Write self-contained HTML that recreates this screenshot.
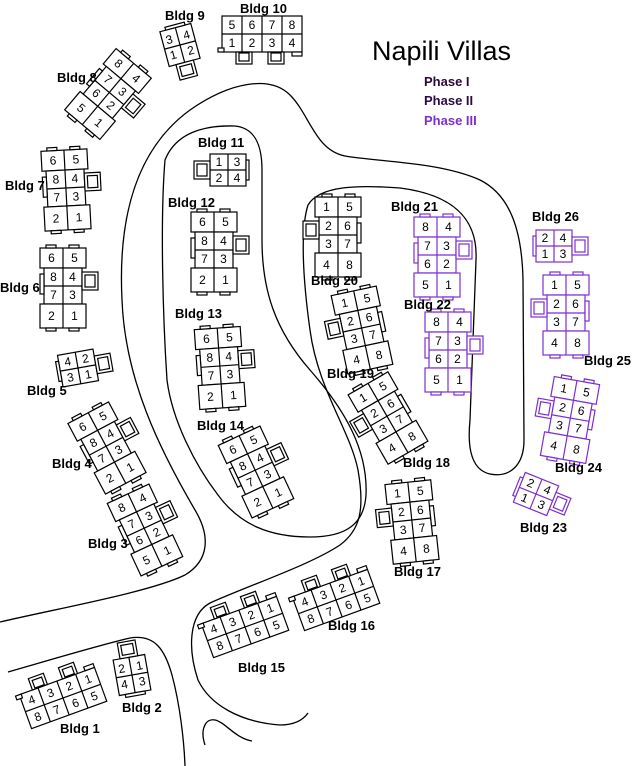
<!DOCTYPE html>
<html><head><meta charset="utf-8"><style>
html,body{margin:0;padding:0;background:#fff;width:633px;height:766px;overflow:hidden}
svg{display:block}
.n{font-family:"Liberation Sans",sans-serif;font-size:12px;text-anchor:middle;fill:#000}
.l{font-family:"Liberation Sans",sans-serif;font-size:13px;font-weight:bold;fill:#000}
</style></head><body>
<svg width="633" height="766" viewBox="0 0 633 766" xmlns="http://www.w3.org/2000/svg">
<defs>
<g id="b8" fill="#fff" stroke-width="1.2">
<rect x="-23" y="-40" width="46" height="20"/>
<rect x="-19" y="-20" width="38" height="36"/>
<rect x="-23" y="16" width="46" height="24"/>
<line x1="0" y1="-40" x2="0" y2="40"/>
<line x1="-19" y1="-2" x2="19" y2="-2"/>
<rect x="19" y="-16" width="16" height="18"/>
<rect x="22" y="-13" width="10" height="12"/>
<rect x="-23" y="-14" width="4" height="20"/>
<rect x="-17" y="-43" width="10" height="3"/>
<rect x="6" y="-43" width="10" height="3"/>
<rect x="-17" y="40" width="10" height="3"/>
<rect x="6" y="40" width="10" height="3"/>
</g>
<g id="b4" fill="#fff" stroke-width="1.2">
<rect x="-18" y="-16" width="36" height="32"/>
<line x1="0" y1="-16" x2="0" y2="16"/>
<line x1="-18" y1="0" x2="18" y2="0"/>
<rect x="18" y="-9" width="16" height="18"/>
<rect x="21" y="-6" width="10" height="12"/>
<rect x="-21" y="-10" width="3" height="20"/>
</g>
<g id="bh" fill="#fff" stroke-width="1.2">
<rect x="-40" y="-18" width="80" height="36"/>
<line x1="-20" y1="-18" x2="-20" y2="18"/>
<line x1="0" y1="-18" x2="0" y2="18"/>
<line x1="20" y1="-18" x2="20" y2="18"/>
<line x1="-40" y1="0" x2="40" y2="0"/>
<rect x="-26" y="-30" width="16" height="12"/>
<rect x="-23" y="-27" width="10" height="8"/>
<rect x="6" y="-30" width="16" height="12"/>
<rect x="9" y="-27" width="10" height="8"/>
<rect x="-44" y="-18" width="6" height="4"/>
<rect x="30" y="-22" width="10" height="4"/>
</g>
</defs>

<g fill="none" stroke="#000" stroke-width="1.3">
<path d="M0,622 C60,608 150,592 185,575 C210,560 210,535 195,510 C160,450 125,380 122,300 C118,220 135,150 190,110 C230,82 270,75 290,95 C310,115 315,150 345,156 C380,162 440,162 480,180 C510,195 522,230 523,280 L524,440 C524,465 510,478 490,474 C472,470 467,450 470,420 L476,260 C478,220 455,195 400,188 C360,185 320,185 308,205 C300,230 303,280 310,330 C318,390 350,430 358,470 C365,510 360,530 340,545 C310,565 250,585 210,603 C188,615 188,650 198,680 C210,705 240,722 280,725 C295,725 303,720 308,713"/>
<path d="M165,160 C175,135 200,125 235,126 C255,128 262,145 262,170 L262,240 C262,290 275,330 310,370 C345,410 368,450 366,495 C364,525 345,537 310,537 C270,537 240,525 218,495 C195,465 172,420 167,380 C163,320 160,220 165,160 Z"/>
<path d="M8,672 C50,660 100,645 130,638 C155,634 165,650 172,675 C180,705 184,740 185,766"/>
<path d="M205,745 C200,730 205,718 215,720 C225,722 235,738 252,741"/>
</g>

<text x="372" y="60" font-family="Liberation Sans,sans-serif" font-size="27" fill="#000">Napili Villas</text>
<text x="424" y="86" class="l" style="fill:#2a0a3a">Phase I</text>
<text x="424" y="105" class="l" style="fill:#2a0c44">Phase II</text>
<text x="424" y="125" class="l" style="fill:#7b2fd0">Phase III</text>

<g transform="translate(214,252)"><use href="#b8" stroke="#000"/>
<text class="n" x="-11.5" y="-26">6</text><text class="n" x="11.5" y="-26">5</text>
<text class="n" x="-9.5" y="-7">8</text><text class="n" x="9.5" y="-7">4</text>
<text class="n" x="-9.5" y="11">7</text><text class="n" x="9.5" y="11">3</text>
<text class="n" x="-11.5" y="32">2</text><text class="n" x="11.5" y="32">1</text></g>
<g transform="translate(220,368) rotate(-4)"><use href="#b8" stroke="#000"/>
<text class="n" x="-11.5" y="-26">6</text><text class="n" x="11.5" y="-26">5</text>
<text class="n" x="-9.5" y="-7">8</text><text class="n" x="9.5" y="-7">4</text>
<text class="n" x="-9.5" y="11">7</text><text class="n" x="9.5" y="11">3</text>
<text class="n" x="-11.5" y="32">2</text><text class="n" x="11.5" y="32">1</text></g>
<g transform="translate(256,472) rotate(-25)"><use href="#b8" stroke="#000"/>
<text class="n" x="-11.5" y="-26">6</text><text class="n" x="11.5" y="-26">5</text>
<text class="n" x="-9.5" y="-7">8</text><text class="n" x="9.5" y="-7">4</text>
<text class="n" x="-9.5" y="11">7</text><text class="n" x="9.5" y="11">3</text>
<text class="n" x="-11.5" y="32">2</text><text class="n" x="11.5" y="32">1</text></g>
<g transform="translate(66,190) rotate(-3)"><use href="#b8" stroke="#000"/>
<text class="n" x="-11.5" y="-26">6</text><text class="n" x="11.5" y="-26">5</text>
<text class="n" x="-9.5" y="-7">8</text><text class="n" x="9.5" y="-7">4</text>
<text class="n" x="-9.5" y="11">7</text><text class="n" x="9.5" y="11">3</text>
<text class="n" x="-11.5" y="32">2</text><text class="n" x="11.5" y="32">1</text></g>
<g transform="translate(63,288)"><use href="#b8" stroke="#000"/>
<text class="n" x="-11.5" y="-26">6</text><text class="n" x="11.5" y="-26">5</text>
<text class="n" x="-9.5" y="-7">8</text><text class="n" x="9.5" y="-7">4</text>
<text class="n" x="-9.5" y="11">7</text><text class="n" x="9.5" y="11">3</text>
<text class="n" x="-11.5" y="32">2</text><text class="n" x="11.5" y="32">1</text></g>
<g transform="translate(107,448) rotate(-28)"><use href="#b8" stroke="#000"/>
<text class="n" x="-11.5" y="-26">6</text><text class="n" x="11.5" y="-26">5</text>
<text class="n" x="-9.5" y="-7">8</text><text class="n" x="9.5" y="-7">4</text>
<text class="n" x="-9.5" y="11">7</text><text class="n" x="9.5" y="11">3</text>
<text class="n" x="-11.5" y="32">2</text><text class="n" x="11.5" y="32">1</text></g>
<g transform="translate(145,530) rotate(-25)"><use href="#b8" stroke="#000"/>
<text class="n" x="-11.5" y="-26">8</text><text class="n" x="11.5" y="-26">4</text>
<text class="n" x="-9.5" y="-7">7</text><text class="n" x="9.5" y="-7">3</text>
<text class="n" x="-9.5" y="11">6</text><text class="n" x="9.5" y="11">2</text>
<text class="n" x="-11.5" y="32">5</text><text class="n" x="11.5" y="32">1</text></g>
<g transform="translate(108,94) rotate(40)"><use href="#b8" stroke="#000"/>
<text class="n" x="-11.5" y="-26">8</text><text class="n" x="11.5" y="-26">4</text>
<text class="n" x="-9.5" y="-7">7</text><text class="n" x="9.5" y="-7">3</text>
<text class="n" x="-9.5" y="11">6</text><text class="n" x="9.5" y="11">2</text>
<text class="n" x="-11.5" y="32">5</text><text class="n" x="11.5" y="32">1</text></g>
<g transform="translate(338,237)"><use href="#b8" stroke="#000" transform="scale(-1,1)"/>
<text class="n" x="-11.5" y="-26">1</text><text class="n" x="11.5" y="-26">5</text>
<text class="n" x="-9.5" y="-7">2</text><text class="n" x="9.5" y="-7">6</text>
<text class="n" x="-9.5" y="11">3</text><text class="n" x="9.5" y="11">7</text>
<text class="n" x="-11.5" y="32">4</text><text class="n" x="11.5" y="32">8</text></g>
<g transform="translate(362,330) rotate(-12)"><use href="#b8" stroke="#000" transform="scale(-1,1)"/>
<text class="n" x="-11.5" y="-26">1</text><text class="n" x="11.5" y="-26">5</text>
<text class="n" x="-9.5" y="-7">2</text><text class="n" x="9.5" y="-7">6</text>
<text class="n" x="-9.5" y="11">3</text><text class="n" x="9.5" y="11">7</text>
<text class="n" x="-11.5" y="32">4</text><text class="n" x="11.5" y="32">8</text></g>
<g transform="translate(388,418) rotate(-30)"><use href="#b8" stroke="#000" transform="scale(-1,1)"/>
<text class="n" x="-11.5" y="-26">1</text><text class="n" x="11.5" y="-26">5</text>
<text class="n" x="-9.5" y="-7">2</text><text class="n" x="9.5" y="-7">6</text>
<text class="n" x="-9.5" y="11">3</text><text class="n" x="9.5" y="11">7</text>
<text class="n" x="-11.5" y="32">4</text><text class="n" x="11.5" y="32">8</text></g>
<g transform="translate(412,522) rotate(-6)"><use href="#b8" stroke="#000" transform="scale(-1,1)"/>
<text class="n" x="-11.5" y="-26">1</text><text class="n" x="11.5" y="-26">5</text>
<text class="n" x="-9.5" y="-7">2</text><text class="n" x="9.5" y="-7">6</text>
<text class="n" x="-9.5" y="11">3</text><text class="n" x="9.5" y="11">7</text>
<text class="n" x="-11.5" y="32">4</text><text class="n" x="11.5" y="32">8</text></g>
<g transform="translate(437,257)"><use href="#b8" stroke="#7b2fd0"/>
<text class="n" x="-11.5" y="-26">8</text><text class="n" x="11.5" y="-26">4</text>
<text class="n" x="-9.5" y="-7">7</text><text class="n" x="9.5" y="-7">3</text>
<text class="n" x="-9.5" y="11">6</text><text class="n" x="9.5" y="11">2</text>
<text class="n" x="-11.5" y="32">5</text><text class="n" x="11.5" y="32">1</text></g>
<g transform="translate(448,352)"><use href="#b8" stroke="#7b2fd0"/>
<text class="n" x="-11.5" y="-26">8</text><text class="n" x="11.5" y="-26">4</text>
<text class="n" x="-9.5" y="-7">7</text><text class="n" x="9.5" y="-7">3</text>
<text class="n" x="-9.5" y="11">6</text><text class="n" x="9.5" y="11">2</text>
<text class="n" x="-11.5" y="32">5</text><text class="n" x="11.5" y="32">1</text></g>
<g transform="translate(566,315)"><use href="#b8" stroke="#7b2fd0" transform="scale(-1,1)"/>
<text class="n" x="-11.5" y="-26">1</text><text class="n" x="11.5" y="-26">5</text>
<text class="n" x="-9.5" y="-7">2</text><text class="n" x="9.5" y="-7">6</text>
<text class="n" x="-9.5" y="11">3</text><text class="n" x="9.5" y="11">7</text>
<text class="n" x="-11.5" y="32">4</text><text class="n" x="11.5" y="32">8</text></g>
<g transform="translate(570,420) rotate(10)"><use href="#b8" stroke="#7b2fd0" transform="scale(-1,1)"/>
<text class="n" x="-11.5" y="-26">1</text><text class="n" x="11.5" y="-26">5</text>
<text class="n" x="-9.5" y="-7">2</text><text class="n" x="9.5" y="-7">6</text>
<text class="n" x="-9.5" y="11">3</text><text class="n" x="9.5" y="11">7</text>
<text class="n" x="-11.5" y="32">4</text><text class="n" x="11.5" y="32">8</text></g>

<g transform="translate(228,170)"><use href="#b4" stroke="#000" transform="scale(-1,1)"/>
<text class="n" x="-9" y="-4">1</text><text class="n" x="9" y="-4">3</text>
<text class="n" x="-9" y="12">2</text><text class="n" x="9" y="12">4</text></g>
<g transform="translate(180,45) rotate(-15)"><use href="#b4" stroke="#000" transform="rotate(90)"/>
<text class="n" x="-9" y="-4">3</text><text class="n" x="9" y="-4">4</text>
<text class="n" x="-9" y="12">1</text><text class="n" x="9" y="12">2</text></g>
<g transform="translate(78,368) rotate(-10)"><use href="#b4" stroke="#000"/>
<text class="n" x="-9" y="-4">4</text><text class="n" x="9" y="-4">2</text>
<text class="n" x="-9" y="12">3</text><text class="n" x="9" y="12">1</text></g>
<g transform="translate(132,675) rotate(-10)"><use href="#b4" stroke="#000" transform="rotate(-90)"/>
<text class="n" x="-9" y="-4">2</text><text class="n" x="9" y="-4">1</text>
<text class="n" x="-9" y="12">4</text><text class="n" x="9" y="12">3</text></g>
<g transform="translate(554,246)"><use href="#b4" stroke="#7b2fd0"/>
<text class="n" x="-9" y="-4">2</text><text class="n" x="9" y="-4">4</text>
<text class="n" x="-9" y="12">1</text><text class="n" x="9" y="12">3</text></g>
<g transform="translate(536,494) rotate(22)"><use href="#b4" stroke="#7b2fd0"/>
<text class="n" x="-9" y="-4">2</text><text class="n" x="9" y="-4">4</text>
<text class="n" x="-9" y="12">1</text><text class="n" x="9" y="12">3</text></g>

<g transform="translate(262,34)"><use href="#bh" stroke="#000" transform="scale(1,-1)"/>
<text class="n" x="-30" y="-5">5</text><text class="n" x="-10" y="-5">6</text><text class="n" x="10" y="-5">7</text><text class="n" x="30" y="-5">8</text>
<text class="n" x="-30" y="13">1</text><text class="n" x="-10" y="13">2</text><text class="n" x="10" y="13">3</text><text class="n" x="30" y="13">4</text></g>
<g transform="translate(336,600) rotate(-20)"><use href="#bh" stroke="#000"/>
<text class="n" x="-30" y="-5">4</text><text class="n" x="-10" y="-5">3</text><text class="n" x="10" y="-5">2</text><text class="n" x="30" y="-5">1</text>
<text class="n" x="-30" y="13">8</text><text class="n" x="-10" y="13">7</text><text class="n" x="10" y="13">6</text><text class="n" x="30" y="13">5</text></g>
<g transform="translate(245,627) rotate(-20)"><use href="#bh" stroke="#000"/>
<text class="n" x="-30" y="-5">4</text><text class="n" x="-10" y="-5">3</text><text class="n" x="10" y="-5">2</text><text class="n" x="30" y="-5">1</text>
<text class="n" x="-30" y="13">8</text><text class="n" x="-10" y="13">7</text><text class="n" x="10" y="13">6</text><text class="n" x="30" y="13">5</text></g>
<g transform="translate(63,698) rotate(-20)"><use href="#bh" stroke="#000"/>
<text class="n" x="-30" y="-5">4</text><text class="n" x="-10" y="-5">3</text><text class="n" x="10" y="-5">2</text><text class="n" x="30" y="-5">1</text>
<text class="n" x="-30" y="13">8</text><text class="n" x="-10" y="13">7</text><text class="n" x="10" y="13">6</text><text class="n" x="30" y="13">5</text></g>

<text class="l" x="240" y="13">Bldg 10</text>
<text class="l" x="165" y="20">Bldg 9</text>
<text class="l" x="57" y="82">Bldg 8</text>
<text class="l" x="5" y="190">Bldg 7</text>
<text class="l" x="0" y="292">Bldg 6</text>
<text class="l" x="27" y="395">Bldg 5</text>
<text class="l" x="52" y="468">Bldg 4</text>
<text class="l" x="88" y="548">Bldg 3</text>
<text class="l" x="198" y="147">Bldg 11</text>
<text class="l" x="168" y="207">Bldg 12</text>
<text class="l" x="175" y="318">Bldg 13</text>
<text class="l" x="197" y="430">Bldg 14</text>
<text class="l" x="311" y="285">Bldg 20</text>
<text class="l" x="391" y="211">Bldg 21</text>
<text class="l" x="404" y="309">Bldg 22</text>
<text class="l" x="327" y="378">Bldg 19</text>
<text class="l" x="403" y="467">Bldg 18</text>
<text class="l" x="394" y="576">Bldg 17</text>
<text class="l" x="328" y="630">Bldg 16</text>
<text class="l" x="238" y="672">Bldg 15</text>
<text class="l" x="60" y="733">Bldg 1</text>
<text class="l" x="122" y="712">Bldg 2</text>
<text class="l" x="532" y="221">Bldg 26</text>
<text class="l" x="584" y="365">Bldg 25</text>
<text class="l" x="555" y="472">Bldg 24</text>
<text class="l" x="520" y="532">Bldg 23</text>
</svg>
</body></html>
